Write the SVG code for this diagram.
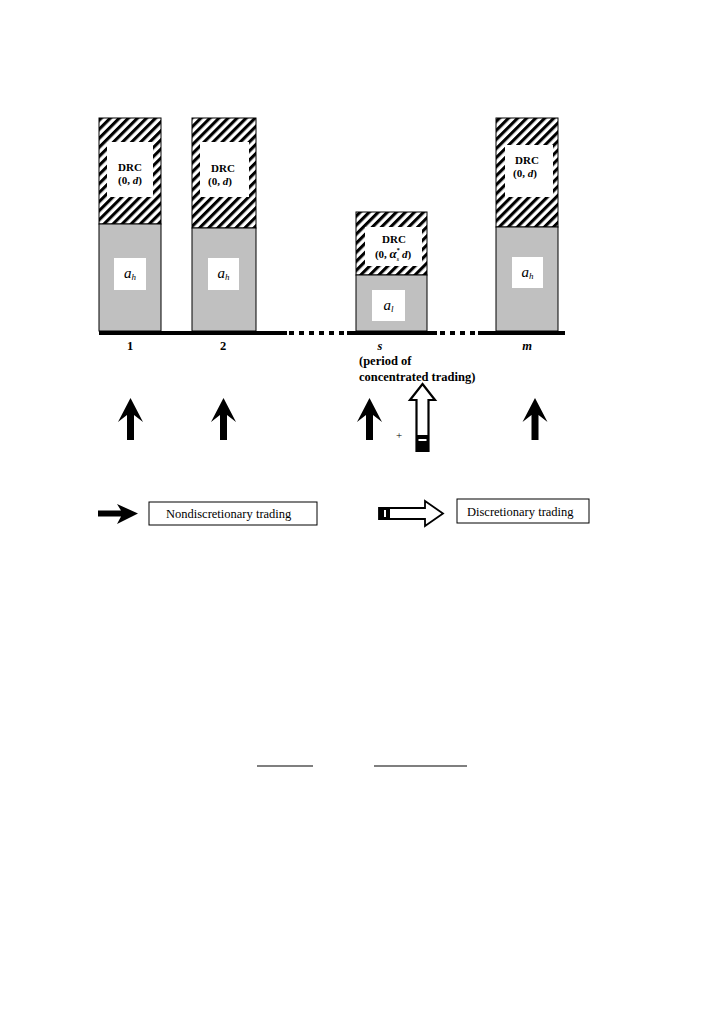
<svg xmlns="http://www.w3.org/2000/svg" width="702" height="1020" viewBox="0 0 702 1020">
<defs>
<pattern id="hatch" patternUnits="userSpaceOnUse" width="6.4" height="6.4" patternTransform="rotate(45)">
<rect x="0" y="0" width="6.4" height="6.4" fill="#fff"/>
<rect x="0" y="0" width="3.1" height="6.4" fill="#000"/>
</pattern>
<path id="upArrow" d="M0,0 L12.5,24 L3.5,17 L3.5,42 L-3.5,42 L-3.5,17 L-12.5,24 Z" fill="#000"/>
</defs>
<style>
.hatch{fill:url(#hatch);stroke:#000;stroke-width:1}
.gray{fill:#c0c0c0;stroke:#000;stroke-width:1}
.wbox{fill:#fff;stroke:none}
.t{font-family:"Liberation Serif","Times New Roman",serif;fill:#000}
.b{font-weight:bold}
.i{font-style:italic}
.drc{font-size:11px;font-weight:bold;text-anchor:middle}
.aa{font-size:15px;font-style:italic;text-anchor:middle}
.lab{font-size:12.5px;font-weight:bold}
.leg{font-size:12.5px}
</style>
<rect width="702" height="1020" fill="#fff"/>

<g id="bar1">
<rect class="hatch" x="99" y="118" width="62" height="106"/>
<rect class="gray" x="99" y="224" width="62" height="107"/>
<rect class="wbox" x="107" y="142" width="46" height="55"/>
<rect class="wbox" x="114" y="258" width="32" height="32"/>
<text class="t drc" x="130" y="170.5">DRC</text>
<text class="t drc" x="130" y="184">(0, <tspan class="i">d</tspan>)</text>
<text class="t aa" x="130" y="278">a<tspan font-size="9" dy="2">h</tspan></text>
</g>

<g id="bar2">
<rect class="hatch" x="192" y="118" width="64" height="110"/>
<rect class="gray" x="192" y="228" width="64" height="103"/>
<rect class="wbox" x="200" y="142" width="49" height="55"/>
<rect class="wbox" x="208" y="258" width="31" height="32"/>
<text class="t drc" x="223" y="172">DRC</text>
<text class="t drc" x="220" y="185">(0, <tspan class="i">d</tspan>)</text>
<text class="t aa" x="223.5" y="278">a<tspan font-size="9" dy="2">h</tspan></text>
</g>

<g id="bar_s">
<rect class="hatch" x="356" y="212" width="71" height="63"/>
<rect class="gray" x="356" y="275" width="71" height="56"/>
<rect class="wbox" x="365" y="227" width="57" height="39"/>
<rect class="wbox" x="372" y="290" width="33" height="31"/>
<text class="t drc" x="394" y="243">DRC</text>
<text class="t drc" x="393" y="258">(0, <tspan class="i" font-size="13">α</tspan><tspan font-size="6" dy="-6">*</tspan><tspan font-size="6" dx="-3" dy="9" class="i">s</tspan><tspan dy="-3"> </tspan><tspan class="i">d</tspan>)</text>
<text class="t aa" x="388.5" y="309.5">a<tspan font-size="9" dy="2">l</tspan></text>
</g>

<g id="bar_m">
<rect class="hatch" x="496" y="118" width="62" height="109"/>
<rect class="gray" x="496" y="227" width="62" height="104"/>
<rect class="wbox" x="505" y="145" width="48" height="52"/>
<rect class="wbox" x="512" y="257" width="31" height="31"/>
<text class="t drc" x="527" y="164">DRC</text>
<text class="t drc" x="525" y="177">(0, <tspan class="i">d</tspan>)</text>
<text class="t aa" x="527.5" y="276.5">a<tspan font-size="9" dy="2">h</tspan></text>
</g>

<g id="connectors">
<line x1="99" y1="333" x2="287" y2="333" stroke="#000" stroke-width="4"/>
<line x1="289" y1="333" x2="347" y2="333" stroke="#000" stroke-width="4" stroke-dasharray="5,5"/>
<line x1="347" y1="333" x2="437" y2="333" stroke="#000" stroke-width="4"/>
<line x1="440" y1="333" x2="478" y2="333" stroke="#000" stroke-width="4" stroke-dasharray="5,5"/>
<line x1="478" y1="333" x2="565" y2="333" stroke="#000" stroke-width="4"/>
</g>

<g id="period_labels">
<text class="t lab" x="130" y="350" text-anchor="middle">1</text>
<text class="t lab" x="223" y="350" text-anchor="middle">2</text>
<text class="t lab i" x="380" y="350" text-anchor="middle">s</text>
<text class="t lab i" x="527" y="350" text-anchor="middle">m</text>
<text class="t lab" x="359" y="364.5">(period of</text>
<text class="t lab" x="359" y="381">concentrated trading)</text>
</g>

<g id="trade_arrows">
<use href="#upArrow" x="130.5" y="398"/>
<use href="#upArrow" x="223.5" y="398"/>
<use href="#upArrow" x="369.5" y="398"/>
<use href="#upArrow" x="535" y="398"/>
<text class="t" x="399" y="439" font-size="11" text-anchor="middle">+</text>
<path d="M422.5,384 L435,400 L428.5,400 L428.5,451 L416.5,451 L416.5,400 L410,400 Z" fill="#fff" stroke="#000" stroke-width="2.2" stroke-linejoin="miter"/>
<rect x="416.5" y="435" width="12" height="16" fill="#000"/>
<rect x="418.5" y="439" width="8" height="2" fill="#fff"/>
</g>

<g id="legend">
<path d="M98,510.5 L121,510.5 L117,504 L138,513.5 L117,524 L121,516.5 L98,516.5 Z" fill="#000"/>
<rect x="149" y="502" width="168" height="23" fill="#fff" stroke="#000" stroke-width="1"/>
<text class="t leg" x="166" y="517.5">Nondiscretionary trading</text>
<path d="M379,508 L425,508 L425,501 L443,513.5 L425,526 L425,519 L379,519 Z" fill="#fff" stroke="#000" stroke-width="1.8"/>
<rect x="379" y="508" width="11" height="11" fill="#000"/>
<rect x="384" y="510" width="2" height="7" fill="#fff"/>
<rect x="457" y="499" width="132" height="24" fill="#fff" stroke="#000" stroke-width="1"/>
<text class="t leg" x="467" y="516">Discretionary trading</text>
</g>

<g id="bottom_lines">
<line x1="257" y1="766" x2="313" y2="766" stroke="#000" stroke-width="1.2"/>
<line x1="374" y1="766" x2="467" y2="766" stroke="#000" stroke-width="1.2"/>
</g>
</svg>
